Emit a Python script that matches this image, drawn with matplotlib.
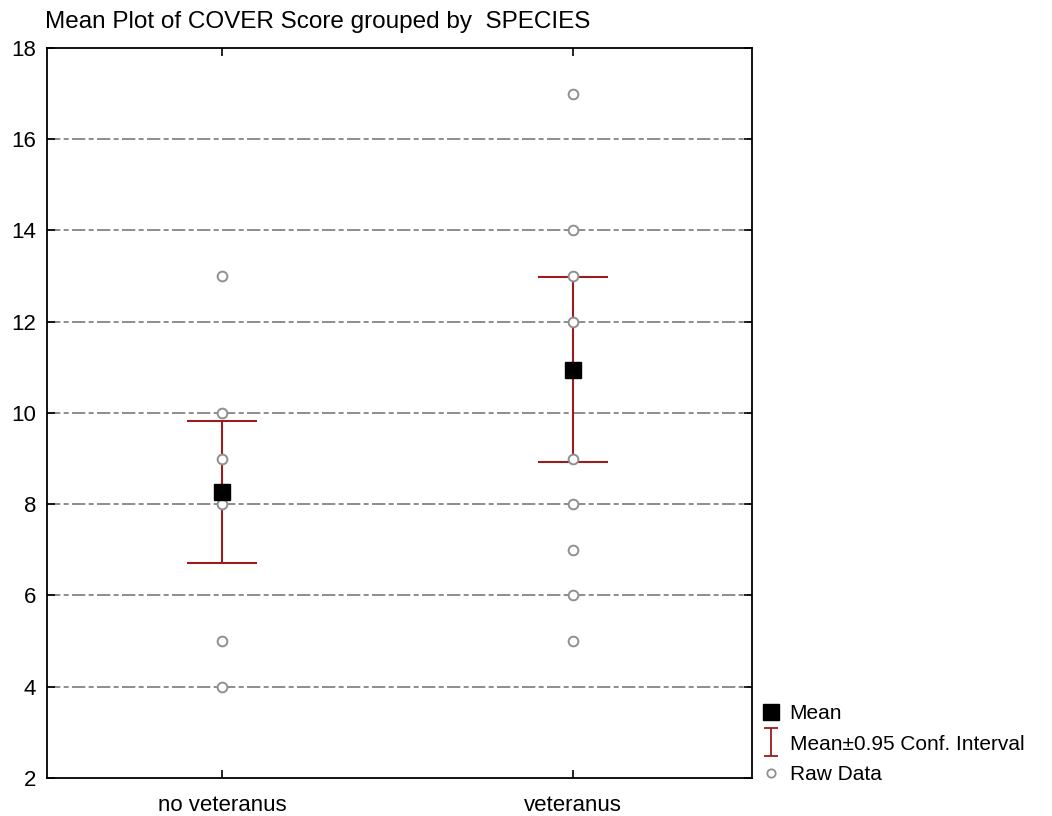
import matplotlib
matplotlib.use("Agg")
import matplotlib.pyplot as plt
from matplotlib.lines import Line2D
from matplotlib.path import Path

plt.rcParams["font.family"] = ["Liberation Sans", "DejaVu Sans"]

groups = ["no veteranus", "veteranus"]
means = [8.27, 10.94]
ci_low = [6.72, 8.92]
ci_high = [9.82, 12.98]
raw_no_vet = [13, 10, 9, 8, 5, 4]
raw_vet = [17, 14, 13, 12, 9, 8, 7, 6, 5]
y_ticks = [2, 4, 6, 8, 10, 12, 14, 16, 18]

fig = plt.figure(figsize=(10.52, 8.16), dpi=100)
ax = fig.add_axes([0.0447, 0.0466, 0.6701, 0.8946])

xpos = [1, 2]
for yt in y_ticks[1:-1]:
    ax.axhline(yt, color="#7a7a7a", lw=1.2, ls=(0, (8, 2, 3, 2)), zorder=1)

for x, raw in zip(xpos, [raw_no_vet, raw_vet]):
    ax.plot([x] * len(raw), raw, ls="none", marker="o", ms=7, mfc="white",
            mec="#909090", mew=1.4, zorder=4)

err_lo = [m - l for m, l in zip(means, ci_low)]
err_hi = [h - m for m, h in zip(means, ci_high)]
ax.errorbar(xpos, means, yerr=[err_lo, err_hi], fmt="none", ecolor="#9b1c1c",
            elinewidth=1.5, capsize=25.5, capthick=1.5, zorder=3)
ax.plot(xpos, means, ls="none", marker="s", ms=12, color="black", zorder=5)

ax.set_xlim(0.5, 2.51)
ax.set_ylim(2, 18)
ax.set_xticks(xpos, labels=groups)
ax.set_yticks(y_ticks)
ax.tick_params(axis="both", labelsize=16, direction="in", length=6,
               top=True, right=True, width=1.2)
ax.tick_params(axis="x", pad=12)
ax.tick_params(axis="y", pad=8)
for s in ax.spines.values():
    s.set_linewidth(1.3)

fig.text(0.043, 0.973, "Mean Plot of COVER Score grouped by  SPECIES",
         fontsize=17.5, ha="left", va="center")

ibeam = Path([(-0.5, -1), (0.5, -1), (0, -1), (0, 1), (-0.5, 1), (0.5, 1)],
             [Path.MOVETO, Path.LINETO, Path.MOVETO, Path.LINETO,
              Path.MOVETO, Path.LINETO])
handles = [
    Line2D([], [], ls="none", marker="s", ms=11, color="black"),
    Line2D([], [], ls="none", marker=ibeam, ms=20, mfc="none",
           mec="#9b1c1c", mew=1.3),
    Line2D([], [], ls="none", marker="o", ms=6, mfc="white", mec="#909090", mew=1.3),
]
fig.legend(handles, ["Mean", "Mean\u00b10.95 Conf. Interval", "Raw Data"],
           loc="lower left", bbox_to_anchor=(0.72, 0.034), frameon=False,
           borderaxespad=0, borderpad=0.2,
           fontsize=15, handlelength=0.9, handletextpad=0.45, labelspacing=0.55)

fig.savefig("out.png", dpi=100)
